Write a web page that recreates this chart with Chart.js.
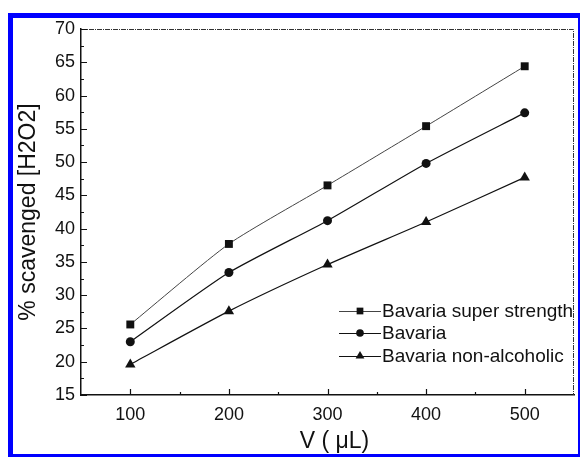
<!DOCTYPE html>
<html>
<head>
<meta charset="utf-8">
<script src="https://cdn.jsdelivr.net/npm/chart.js@4.4.1/dist/chart.umd.min.js"></script>
<style>
    html, body { margin: 0; padding: 0; background: #fff; overflow: hidden; }
    #wrap { position: relative; width: 580px; height: 457px; overflow: hidden; }
    #frame { position: absolute; left: 8px; top: 13px; width: 565px; height: 436px; border: 5px solid #0000ff; }
    #chart { position: absolute; left: 0; top: 0; }
</style>
</head>
<body>
<div id="wrap">
    <div id="frame"></div>
    <canvas id="chart" width="580" height="457"></canvas>
</div>
<script>
// data
const volumes = [100, 200, 300, 400, 500];
const superStrength = [25.6, 37.7, 46.5, 55.4, 64.4];
const bavaria = [23.0, 33.4, 41.2, 49.8, 57.4];
const nonAlcoholic = [19.6, 27.6, 34.6, 41.0, 47.7];
const seriesNames = ["Bavaria super strength", "Bavaria", "Bavaria non-alcoholic"];

const xTicks = [100, 200, 300, 400, 500];
const xMinorTicks = [150, 250, 350, 450];
const yTicks = [15, 20, 25, 30, 35, 40, 45, 50, 55, 60, 65, 70];
const yMinorTicks = [17.5, 22.5, 27.5, 32.5, 37.5, 42.5, 47.5, 52.5, 57.5, 62.5, 67.5];

const xTitle = "V ( \u03bcL)";
const yTitle = "% scavenged [H2O2]";

const FONT = '"Liberation Sans", Arial, sans-serif';

function toPoints(ys) {
    return volumes.map(function (v, i) { return { x: v, y: ys[i] }; });
}

function marker(ctx, style, x, y, r) {
    ctx.beginPath();
    if (style === "rect") {
        let s = r * Math.SQRT1_2;
        ctx.rect(x - s, y - s, 2 * s, 2 * s);
    } else if (style === "circle") {
        ctx.arc(x, y, r, 0, Math.PI * 2);
    } else {
        ctx.moveTo(x, y - r);
        ctx.lineTo(x + r * 0.866, y + r * 0.5);
        ctx.lineTo(x - r * 0.866, y + r * 0.5);
        ctx.closePath();
    }
    ctx.fill();
}

// ticks drawn inside the plot, frame on top/right, titles, legend
const decorPlugin = {
    id: "decor",
    afterDraw: function (chart) {
        let ctx = chart.ctx;
        let xs = chart.scales.x, ys = chart.scales.y;
        let a = chart.chartArea;
        ctx.save();

        // dotted frame top / right
        ctx.strokeStyle = "#333";
        ctx.lineWidth = 1;
        ctx.setLineDash([5, 1, 1, 1]);
        ctx.beginPath();
        ctx.moveTo(a.left, a.top + 0.5);
        ctx.lineTo(a.right - 0.5, a.top + 0.5);
        ctx.lineTo(a.right - 0.5, a.bottom);
        ctx.stroke();
        ctx.setLineDash([]);

        // inside ticks
        ctx.strokeStyle = "#111";
        ctx.lineWidth = 1.2;
        ctx.beginPath();
        xTicks.forEach(function (v) {
            let p = Math.round(xs.getPixelForValue(v)) + 0.5;
            ctx.moveTo(p, a.bottom); ctx.lineTo(p, a.bottom - 6);
        });
        xMinorTicks.forEach(function (v) {
            let p = Math.round(xs.getPixelForValue(v)) + 0.5;
            ctx.moveTo(p, a.bottom); ctx.lineTo(p, a.bottom - 3);
        });
        yTicks.forEach(function (v) {
            let p = Math.round(ys.getPixelForValue(v)) + 0.5;
            ctx.moveTo(a.left, p); ctx.lineTo(a.left + 6, p);
        });
        yMinorTicks.forEach(function (v) {
            let p = Math.round(ys.getPixelForValue(v)) + 0.5;
            ctx.moveTo(a.left, p); ctx.lineTo(a.left + 3, p);
        });
        ctx.stroke();

        // axis titles
        ctx.fillStyle = "#111";
        ctx.font = "23px " + FONT;
        ctx.textAlign = "center";
        ctx.textBaseline = "alphabetic";
        ctx.fillText(xTitle, (a.left + a.right) / 2 + 7, 448);
        ctx.save();
        ctx.translate(35, (a.top + a.bottom) / 2);
        ctx.rotate(-Math.PI / 2);
        ctx.fillText(yTitle, 0, 0);
        ctx.restore();

        // legend
        let rows = [-84, -62, -39];
        ctx.font = "19px " + FONT;
        ctx.textAlign = "left";
        ctx.textBaseline = "middle";
        chart.data.datasets.forEach(function (ds, i) {
            let y = a.bottom + rows[i];
            let x0 = a.right - 235, x1 = a.right - 193;
            ctx.strokeStyle = ds.borderColor;
            ctx.lineWidth = ds.borderWidth;
            ctx.beginPath();
            ctx.moveTo(x0, y + 0.5); ctx.lineTo(x1, y + 0.5);
            ctx.stroke();
            ctx.fillStyle = "#111";
            marker(ctx, ds.pointStyle, (x0 + x1) / 2, y, ds.pointRadius * 0.85);
            ctx.fillText(ds.label, x1 + 1, y + 1);
        });
        ctx.restore();
    },
};

new Chart(document.getElementById("chart"), {
    type: "line",
    data: {
        datasets: [
            {
                label: seriesNames[0],
                data: toPoints(superStrength),
                borderColor: "#444",
                borderWidth: 1,
                pointStyle: "rect",
                pointRadius: 5.6,
                pointBackgroundColor: "#111",
                pointBorderWidth: 0,
                tension: 0.2,
            },
            {
                label: seriesNames[1],
                data: toPoints(bavaria),
                borderColor: "#111",
                borderWidth: 1.2,
                pointStyle: "circle",
                pointRadius: 4.5,
                pointBackgroundColor: "#111",
                pointBorderWidth: 0,
                tension: 0.2,
            },
            {
                label: seriesNames[2],
                data: toPoints(nonAlcoholic),
                borderColor: "#111",
                borderWidth: 1.2,
                pointStyle: "triangle",
                pointRadius: 6,
                pointBackgroundColor: "#111",
                pointBorderWidth: 0,
                tension: 0.2,
            },
        ],
    },
    options: {
        responsive: false,
        animation: false,
        layout: { padding: { top: 29, right: 3, left: 0, bottom: 0 } },
        plugins: { legend: { display: false }, tooltip: { enabled: false } },
        scales: {
            x: {
                type: "linear",
                min: 50,
                max: 550,
                afterBuildTicks: function (scale) {
                    scale.ticks = xTicks.map(function (v) { return { value: v }; });
                },
                afterFit: function (scale) { scale.height = 62; },
                grid: { display: false, drawTicks: false },
                border: { display: true, color: "#111", width: 1.5 },
                ticks: {
                    padding: 9,
                    color: "#111",
                    font: { family: FONT, size: 18 },
                },
            },
            y: {
                min: 15,
                max: 70,
                afterBuildTicks: function (scale) {
                    scale.ticks = yTicks.map(function (v) { return { value: v }; });
                },
                afterFit: function (scale) { scale.width = 81; },
                grid: { display: false, drawTicks: false },
                border: { display: true, color: "#111", width: 1.5 },
                ticks: {
                    padding: 6,
                    color: "#111",
                    font: { family: FONT, size: 18 },
                },
            },
        },
    },
    plugins: [decorPlugin],
});
</script>
</body>
</html>
